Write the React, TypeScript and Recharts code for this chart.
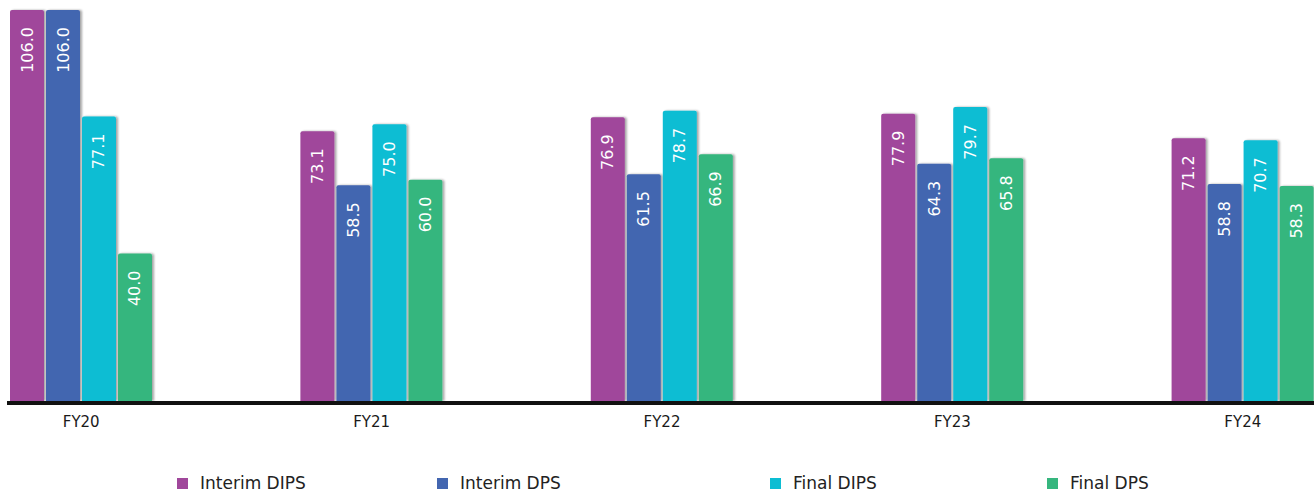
import React from "react";
import { Bar, BarChart, LabelList, Legend, Rectangle, XAxis, YAxis } from "recharts";

const categories = ["FY20", "FY21", "FY22", "FY23", "FY24"];
const interimDips = [106.0, 73.1, 76.9, 77.9, 71.2];
const interimDps = [106.0, 58.5, 61.5, 64.3, 58.8];
const finalDips = [77.1, 75.0, 78.7, 79.7, 70.7];
const finalDps = [40.0, 60.0, 66.9, 65.8, 58.3];

const series = [
  { key: "interimDips", name: "Interim DIPS", color: "#A0479B" },
  { key: "interimDps", name: "Interim DPS", color: "#4366B0" },
  { key: "finalDips", name: "Final DIPS", color: "#0CBDD3" },
  { key: "finalDps", name: "Final DPS", color: "#36B67E" },
];

const data = categories.map((name, i) => ({
  name,
  interimDips: interimDips[i],
  interimDps: interimDps[i],
  finalDips: finalDips[i],
  finalDps: finalDps[i],
}));

const FONT = "'DejaVu Sans', Verdana, sans-serif";

// left edge of each legend entry
const legendLeft = [177, 437, 770, 1047];

function BarValue(props: any) {
  const { x, y, width, value } = props;
  const cx = x + width / 2;
  const cy = y + 17;
  return (
    <text
      x={cx}
      y={cy}
      transform={`rotate(-90, ${cx}, ${cy})`}
      textAnchor="end"
      dominantBaseline="central"
      fill="#ffffff"
      fontSize={16}
      fontFamily={FONT}
    >
      {Number(value).toFixed(1)}
    </text>
  );
}

function ShadowBar(props: any) {
  return <Rectangle {...props} filter="url(#barShadow)" />;
}

// legend keeps the series order instead of the default sorted payload
function LegendRow() {
  return (
    <div style={{ position: "relative", height: 24, fontFamily: FONT, fontSize: 17, color: "#222" }}>
      {series.map((s, i) => (
        <div
          key={s.key}
          style={{
            position: "absolute",
            left: legendLeft[i],
            top: 3,
            display: "flex",
            alignItems: "center",
            lineHeight: "24px",
            whiteSpace: "nowrap",
          }}
        >
          <span style={{ display: "inline-block", width: 11, height: 11, background: s.color, marginRight: 12 }} />
          {s.name}
        </div>
      ))}
    </div>
  );
}

export default function App() {
  return (
    <div style={{ position: "absolute", left: 0, top: 0, width: 1314, height: 492, background: "#fff" }}>
      <BarChart
        width={1314}
        height={492}
        data={data}
        margin={{ top: 10, right: 0, bottom: 0, left: 7 }}
        barSize={34}
        barGap={2}
      >
        <defs>
          <filter id="barShadow" x="-20%" y="-5%" width="150%" height="110%">
            <feDropShadow dx="2" dy="0" stdDeviation="1" floodColor="#000" floodOpacity="0.35" />
          </filter>
        </defs>
        <XAxis
          dataKey="name"
          interval={0}
          height={67}
          padding={{ left: -71, right: -74 }}
          tickLine={false}
          tickSize={6}
          tickMargin={9}
          axisLine={{ stroke: "#111", strokeWidth: 4, transform: "translate(0 2)" }}
          tick={{ fill: "#1a1a1a", fontSize: 15, fontFamily: FONT }}
        />
        <YAxis hide domain={[0, 106]} />
        <Legend verticalAlign="bottom" height={24} content={LegendRow} wrapperStyle={{ left: 0, width: 1314, bottom: 0 }} />
        {series.map((s) => (
          <Bar
            key={s.key}
            dataKey={s.key}
            name={s.name}
            fill={s.color}
            radius={[2, 2, 0, 0]}
            shape={ShadowBar}
            isAnimationActive={false}
          >
            <LabelList dataKey={s.key} content={BarValue} />
          </Bar>
        ))}
      </BarChart>
    </div>
  );
}
